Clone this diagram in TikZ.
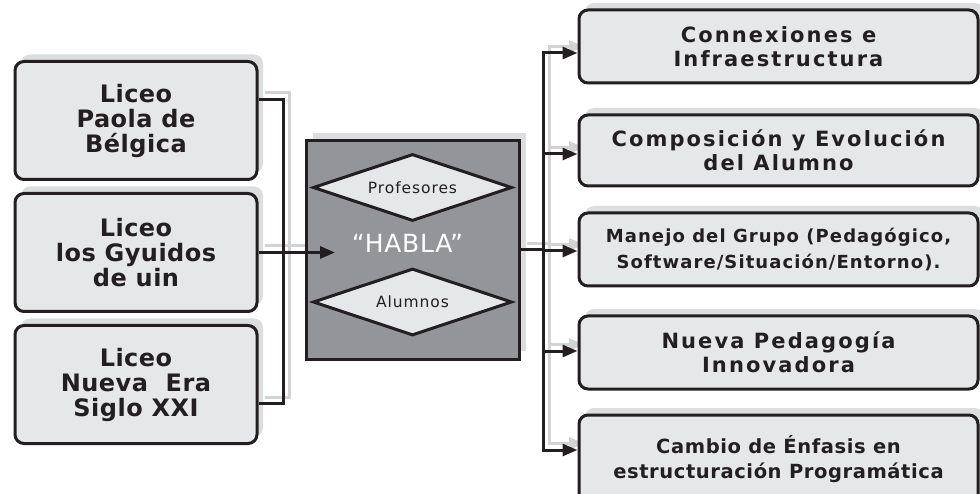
\documentclass[tikz,border=0pt]{standalone}
\usepackage{fontspec}
\setmainfont{DejaVu Sans}
\usetikzlibrary{arrows.meta,shadows,positioning,shapes.geometric}
\definecolor{boxgray}{HTML}{E6E7E8}
\definecolor{inkgray}{HTML}{231F20}
\definecolor{midgray}{HTML}{939598}
\definecolor{shadegray}{HTML}{DCDDDE}
\definecolor{linegray}{HTML}{D1D3D4}
\pgfdeclarelayer{background}
\pgfsetlayers{background,main}

\begin{document}
\begin{tikzpicture}[x=1pt, y=-1pt,
           > = {Triangle[length=15pt, width=12pt]}, line width=3pt,
 shade/.style = {drop shadow={shadow xshift=6pt, shadow yshift=7pt,
                 fill=shadegray, opacity=1}},% grey shadow up and right
  lbox/.style = {draw=inkgray, fill=boxgray, rounded corners=9pt, shade,
                 minimum width=242pt, minimum height=118pt,
                 align=center, text=inkgray,
                 font={\fontsize{24}{25}\selectfont\bfseries\addfontfeatures{LetterSpace=2}}},
  rbox/.style = {draw=inkgray, fill=boxgray, rounded corners=9pt, shade,
                 minimum width=399pt, minimum height=73pt,
                 align=center, text=inkgray,
                 font={\fontsize{21}{24}\selectfont\bfseries\addfontfeatures{LetterSpace=10}}},
 rsmall/.style = {font={\fontsize{18}{26}\selectfont\bfseries\addfontfeatures{LetterSpace=6}}},
  rmid/.style = {font={\fontsize{19.5}{25}\selectfont\bfseries\addfontfeatures{LetterSpace=3}}},
  hbox/.style = {draw=inkgray, fill=midgray,
                 drop shadow={shadow xshift=7pt, shadow yshift=8pt, fill=shadegray, opacity=1},
                 minimum width=213pt, minimum height=218pt},
   dmd/.style = {diamond, aspect=2.97, draw=inkgray, fill=boxgray, inner sep=0pt,
                 minimum width=199pt, minimum height=67pt, text=inkgray,
                 font={\fontsize{15.5}{18}\selectfont\addfontfeatures{LetterSpace=6}}},
 habla/.style = {text=white, inner sep=0pt,
                 font={\fontsize{25}{28}\selectfont\addfontfeatures{LetterSpace=3}}},
  wire/.style = {line width=3pt, line join=miter},
]
\useasboundingbox (0,0) rectangle (980,494);
% schools
\node[lbox] (l1) at (136,120.5) {Liceo\\Paola de\\Bélgica};
\node[lbox, below=11pt of l1] (l2) {Liceo\\los Gyuidos\\de uin};
\node[lbox, below=11pt of l2] (l3) {Liceo\\Nueva~\ Era\\Siglo XXI};
% centre
\node[hbox] (h) at (412.5,250) {};
\node[dmd] (prof) at ([yshift=62.5pt]h.center) {Profesores};
\node[dmd] (alum) at ([yshift=-52pt]h.center) {Alumnos};
\node[habla] (habla) at ([shift={(-5pt,7pt)}]h.center) {“HABLA”};
% results
\node[rbox] (r1) at (778.5,46.5) {Connexiones e\\Infraestructura};
\node[rbox, minimum height=71pt, below=29pt of r1] (r2) {Composición y Evolución\\del Alumno};
\node[rbox, rsmall, below=24pt of r2] (r3) {Manejo del Grupo (Pedagógico,\\Software/Situación/Entorno).};
\node[rbox, below=27pt of r3] (r4) {Nueva Pedagogía\\Innovadora};
\node[rbox, rmid, minimum height=89pt, below=23pt of r4] (r5) {Cambio de Énfasis en\\estructuración Programática};
% wiring points
\coordinate (lbus) at (283,0);
\coordinate (rbus) at (543,0);
\coordinate (in) at (335,0);
\coordinate (l1e) at ([yshift=21pt]l1.east);
\coordinate (l3e) at ([yshift=-19pt]l3.east);
\foreach \i/\dy in {1/-6.5,2/-3.5,3/-1.5,4/1.5,5/9.5}
  \coordinate (a\i) at ([yshift=\dy pt]r\i.west);
% connectors: grey copy behind, then black
\foreach \c/\s/\l in {linegray/6.5/background, inkgray/0/main}
{
\begin{pgfonlayer}{\l}
\begin{scope}[wire, color=\c, transform canvas={shift={(\s pt,\s pt)}}]
  \draw (l1e) -- (l1e -| lbus) -- (l3e -| lbus) -- (l3e);
  \draw[->] (l2.east) -- (in |- l2.east);
  \draw (h.east) -- (h.east -| rbus);
  \draw[line cap=rect] (rbus |- a1) -- (rbus |- a5);
  \foreach \i in {1,...,5} \draw[->] (rbus |- a\i) -- (a\i);
\end{scope}
\end{pgfonlayer}
}
\end{tikzpicture}
\end{document}
